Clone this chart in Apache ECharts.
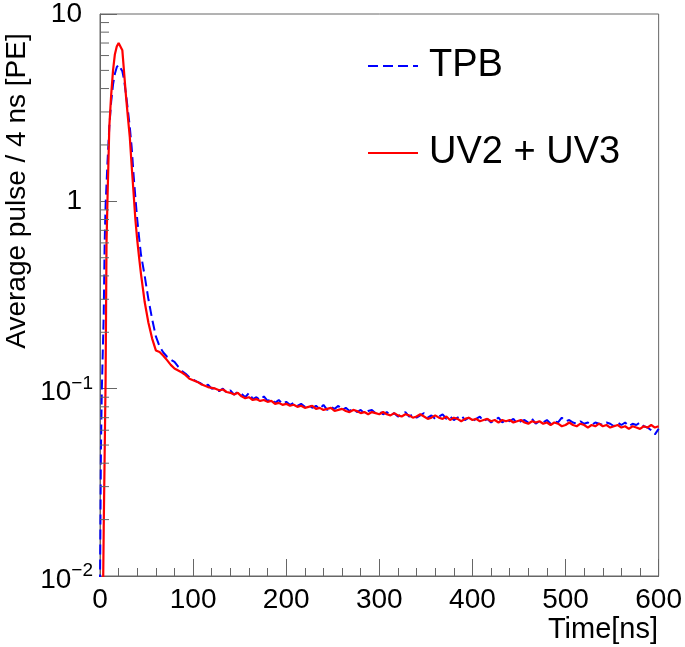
<!DOCTYPE html>
<html>
<head>
<meta charset="utf-8">
<script src="https://cdn.jsdelivr.net/npm/echarts@6/dist/echarts.min.js"></script>
<style>
html,body{margin:0;padding:0;background:#fff;}
#chart{width:685px;height:647px;}
</style>
</head>
<body>
<div id="chart"></div>
<script>
// ---------- data ----------
const seriesNames = ['TPB', 'UV2 + UV3'];
const xTitle = 'Time[ns]';
const yTitle = 'Average pulse / 4 ns [PE]';
const xTicks = [0, 100, 200, 300, 400, 500, 600];
const yTickLabels = { '10': '10', '1': '1', '0.1': '10{sup|\u22121}', '0.01': '10{sup|\u22122}' };
const yMinorTicks = [0.02,0.03,0.04,0.05,0.06,0.07,0.08,0.09,
                     0.2,0.3,0.4,0.5,0.6,0.7,0.8,0.9,
                     2,3,4,5,6,7,8,9];

// rising edge and peak (0-44 ns)
const tpbHeadTimes = [0, 1, 2, 4, 5, 6, 8, 10, 12, 14, 16, 18, 20, 22, 24, 26, 28, 30, 32, 34, 36, 38, 40, 42, 44];
const tpbHead      = [0.009, 0.047, 0.1, 0.25, 0.6, 0.95, 1.6, 2.5, 3.4, 4.2, 4.8, 5.2, 5.35, 5.25, 4.95, 4.4, 3.7, 3.05, 2.5, 1.95, 1.4, 1.05, 0.8, 0.64, 0.52];
const uvHeadTimes  = [0, 2, 4, 6, 7, 8, 10, 12, 14, 16, 18, 20, 22, 24, 26, 28, 30, 32, 34, 36, 38, 40, 42, 44];
const uvHead       = [0.001, 0.002, 0.018, 0.11, 0.6, 1.0, 2.5, 3.7, 5.0, 6.1, 6.7, 7.0, 6.95, 6.4, 4.8, 3.6, 2.8, 2.2, 1.55, 1.12, 0.8, 0.62, 0.5, 0.41];

// tail (48-600 ns, 4 ns bins)
const tailTimes = [
  48, 52, 56, 60, 64, 68, 72, 76, 80, 84,
  88, 92, 96,100,104,108,112,116,120,124,
 128,132,136,140,144,148,152,156,160,164,
 168,172,176,180,184,188,192,196,200,204,
 208,212,216,220,224,228,232,236,240,244,
 248,252,256,260,264,268,272,276,280,284,
 288,292,296,300,304,308,312,316,320,324,
 328,332,336,340,344,348,352,356,360,364,
 368,372,376,380,384,388,392,396,400,404,
 408,412,416,420,424,428,432,436,440,444,
 448,452,456,460,464,468,472,476,480,484,
 488,492,496,500,504,508,512,516,520,524,
 528,532,536,540,544,548,552,556,560,564,
 568,572,576,580,584,588,592,596,600
];
const tpbTail = [
 0.40, 0.30, 0.235,0.19, 0.168,0.156,0.148,0.143,0.139,0.131,
 0.124,0.120,0.115,0.112,0.109,0.107,0.103,0.105,0.100,0.101,
 0.097,0.100,0.095,0.098,0.093,0.096,0.094,0.090,0.095,0.088,
 0.090,0.087,0.091,0.086,0.088,0.084,0.087,0.083,0.085,0.082,
 0.084,0.081,0.083,0.080,0.082,0.079,0.081,0.078,0.082,0.077,
 0.080,0.078,0.081,0.077,0.079,0.076,0.078,0.075,0.077,0.074,
 0.076,0.077,0.074,0.076,0.073,0.075,0.072,0.074,0.071,0.073,
 0.075,0.071,0.073,0.070,0.072,0.074,0.070,0.072,0.069,0.071,
 0.073,0.069,0.071,0.068,0.070,0.072,0.068,0.070,0.067,0.069,
 0.071,0.067,0.069,0.066,0.068,0.070,0.066,0.068,0.067,0.069,
 0.065,0.067,0.068,0.066,0.069,0.065,0.067,0.066,0.068,0.065,
 0.067,0.066,0.070,0.067,0.068,0.066,0.065,0.067,0.065,0.066,
 0.064,0.066,0.065,0.064,0.066,0.065,0.063,0.066,0.064,0.066,
 0.063,0.065,0.064,0.066,0.063,0.062,0.060,0.057,0.061
];
const uvTail = [
 0.29, 0.225,0.185,0.160,0.157,0.150,0.142,0.134,0.128,0.125,
 0.122,0.118,0.113,0.111,0.109,0.106,0.104,0.102,0.101,0.100,
 0.098,0.099,0.096,0.095,0.093,0.095,0.091,0.089,0.090,0.087,
 0.088,0.086,0.087,0.085,0.086,0.083,0.084,0.082,0.083,0.081,
 0.082,0.080,0.081,0.079,0.080,0.081,0.078,0.079,0.077,0.078,
 0.079,0.076,0.077,0.078,0.076,0.075,0.077,0.076,0.074,0.075,
 0.073,0.075,0.074,0.073,0.075,0.073,0.072,0.074,0.072,0.071,
 0.073,0.072,0.070,0.071,0.073,0.071,0.069,0.070,0.072,0.070,
 0.069,0.071,0.068,0.070,0.069,0.067,0.069,0.070,0.068,0.069,
 0.067,0.068,0.069,0.067,0.068,0.066,0.068,0.067,0.068,0.066,
 0.067,0.068,0.066,0.065,0.067,0.066,0.067,0.065,0.066,0.064,
 0.066,0.065,0.063,0.064,0.066,0.064,0.063,0.065,0.064,0.062,
 0.064,0.063,0.065,0.063,0.064,0.062,0.063,0.064,0.062,0.063,
 0.061,0.063,0.062,0.061,0.063,0.062,0.064,0.062,0.063
];

// ---------- build ----------
function pairs(ts, vs) { return ts.map((t, i) => [t, vs[i]]); }
const tpbData = pairs(tpbHeadTimes, tpbHead).concat(pairs(tailTimes, tpbTail));
const uvData  = pairs(uvHeadTimes, uvHead).concat(pairs(tailTimes, uvTail));

const FONT = 'Liberation Sans, Arial, Helvetica, sans-serif';
const AX = '#666666';

const chart = echarts.init(document.getElementById('chart'), null, { renderer: 'canvas' });
chart.setOption({
  animation: false,
  backgroundColor: '#ffffff',
  grid: { left: 100, right: 25, top: 12, bottom: 71, show: true, borderColor: AX, borderWidth: 1, containLabel: false },
  legend: {
    orient: 'vertical', left: 362, top: 41,
    itemWidth: 50, itemHeight: 14, itemGap: 47,
    data: seriesNames,
    itemStyle: { opacity: 0 },
    textStyle: { fontFamily: FONT, fontSize: 38, color: '#000', lineHeight: 40, padding: [0, 0, 0, 6] }
  },
  xAxis: {
    type: 'value', min: xTicks[0], max: xTicks[xTicks.length - 1], interval: 100,
    axisLine: { show: true, lineStyle: { color: AX, width: 1 } },
    axisTick: { show: true, inside: true, length: 17, lineStyle: { color: AX } },
    minorTick: { show: true, splitNumber: 5, length: 8, lineStyle: { color: AX } },
    splitLine: { show: false },
    axisLabel: { fontFamily: FONT, fontSize: 28, color: '#000', margin: 10 }
  },
  yAxis: {
    type: 'log', logBase: 10, min: 0.01, max: 10,
    axisLine: { show: true, lineStyle: { color: AX, width: 1 } },
    axisTick: { show: true, inside: true, length: 17, lineStyle: { color: AX } },
    splitLine: { show: false },
    axisLabel: {
      fontFamily: FONT, fontSize: 28, color: '#000', margin: 7,
      formatter: function (v) {
        const k = String(+v.toPrecision(3));
        const s = yTickLabels[k];
        if (s === undefined) return '';
        return s.indexOf('{sup') >= 0 ? '{b|' + s.replace(/\{sup\|(.*)\}/, '}{sup|$1}') : '{n|' + s + '}';
      },
      rich: {
        n: { fontFamily: FONT, fontSize: 28, color: '#000', padding: [0, 11, 0, 0] },
        b: { fontFamily: FONT, fontSize: 28, color: '#000', padding: [8, 0, 0, 0] },
        sup: { fontFamily: FONT, fontSize: 19, color: '#000', padding: [0, 0, 10, 0] }
      }
    }
  },
  graphic: [
    { type: 'text', rotation: Math.PI / 2, x: 17, y: 191,
      style: { text: yTitle, font: '28px ' + FONT, fill: '#000', textAlign: 'center', textVerticalAlign: 'middle' } },
    { type: 'text', x: 658, y: 630,
      style: { text: xTitle, font: '29px ' + FONT, fill: '#000', textAlign: 'right', textVerticalAlign: 'middle' } }
  ],
  series: [
    {
      name: seriesNames[0], type: 'line', data: tpbData, showSymbol: false, symbol: 'none',
      clip: true, z: 3,
      lineStyle: { color: '#0000ff', width: 2, type: [10, 5] },
      itemStyle: { color: '#0000ff' }
    },
    {
      name: seriesNames[1], type: 'line', data: uvData, showSymbol: false, symbol: 'none',
      clip: true, z: 4,
      lineStyle: { color: '#ff0000', width: 2.2 },
      itemStyle: { color: '#ff0000' }
    },
    {
      name: 'yMinor', type: 'custom', silent: true, z: 5, clip: false,
      data: yMinorTicks.map(v => [0, v]),
      renderItem: function (params, api) {
        const p = api.coord([api.value(0), api.value(1)]);
        return { type: 'line', shape: { x1: p[0], y1: p[1], x2: p[0] + 9, y2: p[1] },
                 style: { stroke: AX, lineWidth: 1 } };
      }
    }
  ]
});
</script>
</body>
</html>
